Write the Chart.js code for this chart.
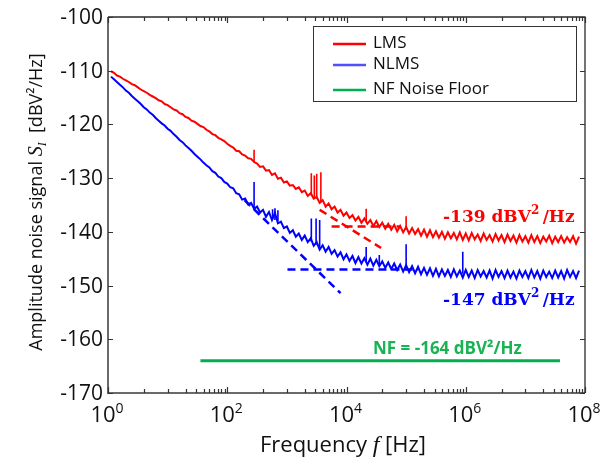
<!DOCTYPE html>
<html>
<head>
<meta charset="utf-8">
<script src="https://cdn.jsdelivr.net/npm/chart.js@4.4.1/dist/chart.umd.min.js"></script>
<style>
  html, body { margin: 0; padding: 0; background: #fff; }
  canvas { display: block; }
</style>
</head>
<body>
<canvas id="c" width="605" height="460"></canvas>
<script>
// Frequency grid of the spectra, as log10(f / Hz)
const logFreq = Array.from({ length: 158 }, (_, i) => +(0.05 + 0.05 * i).toFixed(2));

// LMS noise spectrum [dBV^2/Hz]
const lmsDb = [
  -110.1,-110.4,-110.9,-111.1,-111.5,-111.8,-112.1,-112.5,-112.7,-113.1,
  -113.5,-113.8,-114.1,-114.5,-114.8,-115.1,-115.5,-115.7,-116.2,-116.4,
  -116.8,-117.2,-117.4,-117.9,-118.1,-118.6,-118.8,-119.3,-119.5,-119.9,
  -120.3,-120.5,-121.0,-121.3,-121.8,-122.0,-122.5,-122.8,-123.1,-123.6,
  -124.0,-124.3,-124.9,-125.0,-125.6,-125.8,-126.3,-126.4,-127.0,-127.3,
  -127.9,-127.8,-128.6,-128.5,-129.4,-129.1,-130.1,-129.9,-130.8,-130.6,
  -131.4,-131.3,-132.0,-131.7,-132.6,-132.3,-133.3,-132.8,-133.8,-133.5,
  -134.6,-134.1,-135.3,-134.7,-135.8,-135.3,-136.4,-135.9,-137.0,-136.4,
  -137.4,-136.9,-137.9,-137.2,-138.3,-137.5,-138.5,-137.8,-138.9,-138.0,
  -139.1,-138.3,-139.4,-138.5,-139.6,-138.7,-139.9,-138.9,-140.1,-139.1,
  -140.3,-139.3,-140.4,-139.5,-140.7,-139.6,-140.9,-139.7,-141.0,-139.9,
  -141.1,-140.0,-141.3,-140.1,-141.2,-140.2,-141.4,-140.1,-141.5,-140.3,
  -141.6,-140.2,-141.4,-140.5,-141.7,-140.3,-141.5,-140.6,-141.8,-140.4,
  -141.6,-140.6,-141.9,-140.5,-141.7,-140.7,-142.0,-140.6,-141.8,-140.8,
  -142.0,-140.6,-141.9,-140.8,-142.1,-140.9,-141.8,-140.7,-142.1,-140.9,
  -141.9,-140.8,-142.0,-141.0,-141.9,-140.8,-142.2,-140.9
];

// NLMS noise spectrum [dBV^2/Hz]
const nlmsDb = [
  -111.1,-111.6,-112.1,-112.6,-113.1,-113.7,-114.1,-114.7,-115.2,-115.7,
  -116.2,-116.8,-117.2,-117.8,-118.2,-118.8,-119.3,-119.8,-120.2,-120.8,
  -121.2,-121.8,-122.3,-122.9,-123.3,-123.9,-124.4,-124.9,-125.5,-126.0,
  -126.5,-127.1,-127.6,-128.0,-128.7,-129.0,-129.7,-130.0,-130.7,-131.0,
  -131.7,-131.9,-132.8,-133.0,-134.0,-133.8,-134.9,-134.6,-135.7,-135.3,
  -136.4,-135.9,-137.2,-136.3,-137.8,-136.5,-138.4,-138.1,-139.3,-139.0,
  -140.2,-139.7,-140.9,-140.3,-141.5,-140.7,-141.9,-141.2,-142.6,-141.9,
  -143.3,-142.5,-143.7,-142.8,-144.1,-143.4,-144.6,-143.8,-145.1,-144.2,
  -145.4,-144.5,-145.8,-144.7,-145.9,-144.9,-146.1,-145.0,-146.3,-145.2,
  -146.4,-145.5,-146.7,-145.7,-146.9,-145.9,-147.1,-146.1,-147.4,-146.2,
  -147.5,-146.4,-147.7,-146.5,-147.9,-146.7,-148.0,-146.8,-148.2,-146.9,
  -148.3,-147.0,-148.2,-147.1,-148.4,-147.0,-148.3,-147.2,-148.5,-147.1,
  -148.4,-147.2,-148.6,-147.1,-148.3,-147.3,-148.5,-147.2,-148.7,-147.1,
  -148.4,-147.3,-148.6,-147.2,-148.5,-147.4,-148.7,-147.2,-148.4,-147.3,
  -148.6,-147.1,-148.5,-147.3,-148.7,-147.2,-148.4,-147.4,-148.6,-147.2,
  -148.5,-147.3,-148.7,-147.1,-148.4,-147.3,-148.6,-147.2
];

// Narrow interference lines: position, foot and peak
const lmsSpikeLogF = [2.45, 3.41, 3.46, 3.50, 3.57, 4.33, 5.00];
const lmsSpikeBase = [-127.0, -133.2, -133.6, -133.8, -134.4, -138.2, -139.6];
const lmsSpikeTop  = [-124.7, -129.1, -129.5, -129.2, -128.9, -135.7, -137.1];

const nlmsSpikeLogF = [2.45, 2.76, 2.80, 2.85, 3.41, 3.49, 3.55, 4.33, 4.55, 5.00, 5.95];
const nlmsSpikeBase = [-135.5, -137.6, -137.8, -138.0, -141.8, -142.4, -142.9, -145.6, -146.0, -146.8, -147.8];
const nlmsSpikeTop  = [-130.7, -135.8, -135.6, -136.0, -137.5, -137.5, -137.8, -142.8, -144.3, -142.3, -143.7];

// Asymptotes: 1/f slopes and white-noise floors
const lmsSlopeLogF  = [3.55, 4.58];
const lmsSlopeDb    = [-135.9, -143.0];
const lmsFloorLogF  = [3.75, 4.90];
const lmsFloorDb    = [-139, -139];
const nlmsSlopeLogF = [2.29, 3.90];
const nlmsSlopeDb   = [-134.1, -151.4];
const nlmsFloorLogF = [3.01, 5.20];
const nlmsFloorDb   = [-147, -147];

// Noise floor of the front end
const nfLogF = [1.55, 7.58];
const nfDb   = [-164, -164];

// Axis ticks
const yTicks = [-100, -110, -120, -130, -140, -150, -160, -170];
const xTickExp = [0, 2, 4, 6, 8];
const seriesNames = ['LMS', 'NLMS', 'NF Noise Floor'];

const RED = '#ff0000', BLUE = '#0000ff', GREEN = '#00b050';

const pts = (lf, db) => lf.map((l, i) => ({ x: Math.pow(10, l), y: db[i] }));
const spikes = (lf, b, t) => lf.flatMap((l, i) => {
  const f = Math.pow(10, l);
  return [{ x: f, y: b[i] }, { x: f, y: t[i] }, { x: f, y: null }];
});

// Draws a run of differently styled pieces on one baseline
function runs(ctx, parts, x, y, align) {
  let w = 0;
  parts.forEach(p => { ctx.font = p.font; p.w = ctx.measureText(p.t).width; w += p.w; });
  let cx = align === 'center' ? x - w / 2 : (align === 'right' ? x - w : x);
  ctx.textAlign = 'left';
  ctx.textBaseline = 'alphabetic';
  parts.forEach(p => {
    ctx.font = p.font;
    ctx.fillText(p.t, cx, y + (p.dy || 0));
    cx += p.w;
  });
}

const decorations = {
  id: 'decorations',
  afterDraw(chart) {
    const { ctx, chartArea: a, scales: { x, y } } = chart;
    ctx.save();

    // box
    ctx.lineCap = 'butt';
    ctx.strokeStyle = '#6a6a6a';
    ctx.lineWidth = 2;
    ctx.beginPath();
    ctx.moveTo(a.left, a.top); ctx.lineTo(a.left, a.bottom); ctx.lineTo(a.right, a.bottom);
    ctx.stroke();
    ctx.strokeStyle = '#2a2a2a';
    ctx.lineWidth = 1.3;
    ctx.beginPath();
    ctx.moveTo(a.left, a.top); ctx.lineTo(a.right, a.top); ctx.lineTo(a.right, a.bottom);
    ctx.stroke();

    // y ticks (inward, both sides)
    ctx.lineWidth = 1.2;
    ctx.strokeStyle = '#333';
    yTicks.forEach(v => {
      const py = Math.round(y.getPixelForValue(v)) + 0.5;
      ctx.beginPath();
      ctx.moveTo(a.left, py); ctx.lineTo(a.left + 5, py);
      ctx.moveTo(a.right, py); ctx.lineTo(a.right - 5, py);
      ctx.stroke();
    });

    // x ticks (inward, bottom and top)
    const xt = [];
    for (let e = 0; e <= 8; e += 2) {
      xt.push({ v: Math.pow(10, e), len: 6 });
      if (e < 8) {
        xt.push({ v: 4 * Math.pow(10, e), len: 4 });
        for (let k = 1; k <= 9; k++) xt.push({ v: k * Math.pow(10, e + 1), len: 4 });
      }
    }
    xt.forEach(t => {
      const px = Math.round(x.getPixelForValue(t.v)) + 0.5;
      ctx.beginPath();
      ctx.moveTo(px, a.bottom); ctx.lineTo(px, a.bottom - t.len);
      ctx.moveTo(px, a.top); ctx.lineTo(px, a.top + t.len);
      ctx.stroke();
    });

    // y tick labels
    ctx.fillStyle = '#111';
    ctx.font = '21px "Open Sans"';
    ctx.textAlign = 'right';
    ctx.textBaseline = 'middle';
    yTicks.forEach(v => ctx.fillText(String(v), a.left - 5, y.getPixelForValue(v) + 1));

    // x tick labels: 10^n
    xTickExp.forEach(e => {
      runs(ctx, [
        { t: '10', font: '22px "Open Sans"' },
        { t: String(e), font: '14px "Open Sans"', dy: -9 }
      ], x.getPixelForValue(Math.pow(10, e)) - 1, 422, 'center');
    });

    // axis titles
    runs(ctx, [
      { t: 'Frequency ', font: '22px "Open Sans"' },
      { t: 'f', font: 'italic 24px "Liberation Serif"' },
      { t: ' [Hz]', font: '22px "Open Sans"' }
    ], 343, 452, 'center');

    ctx.save();
    ctx.translate(42, 202);
    ctx.rotate(-Math.PI / 2);
    runs(ctx, [
      { t: 'Amplitude noise signal ', font: '18px "Open Sans"' },
      { t: 'S', font: 'italic 20px "Liberation Serif"' },
      { t: 'I', font: 'italic 12px "Liberation Serif"', dy: 4 },
      { t: '  [dBV\u00B2/Hz]', font: '18px "Open Sans"' }
    ], 0, 0, 'center');
    ctx.restore();

    // legend
    const lx = 313, ly = 26, lw = 263, lh = 75;
    ctx.fillStyle = '#fff';
    ctx.fillRect(lx, ly, lw, lh);
    ctx.strokeStyle = '#333';
    ctx.lineWidth = 1;
    ctx.strokeRect(lx + 0.5, ly + 0.5, lw, lh);
    const legendColors = [RED, '#5050ff', GREEN];
    const legendY = [43, 64, 89];
    seriesNames.forEach((name, i) => {
      ctx.strokeStyle = legendColors[i];
      ctx.lineWidth = 2.5;
      ctx.beginPath();
      ctx.moveTo(333, legendY[i] + 1); ctx.lineTo(366, legendY[i] + 1);
      ctx.stroke();
      ctx.fillStyle = '#111';
      ctx.font = '17px "Open Sans"';
      ctx.textAlign = 'left';
      ctx.textBaseline = 'middle';
      ctx.fillText(name, 373, legendY[i]);
    });

    // floor annotations
    const serif = 'bold 17px "DejaVu Serif"', serifSup = 'bold 12px "DejaVu Serif"';
    ctx.fillStyle = RED;
    runs(ctx, [
      { t: lmsFloorDb[0] + ' dBV', font: serif },
      { t: '2', font: serifSup, dy: -8 },
      { t: '\u2009/Hz', font: serif }
    ], 443, 222, 'left');
    ctx.fillStyle = BLUE;
    runs(ctx, [
      { t: nlmsFloorDb[0] + ' dBV', font: serif },
      { t: '2', font: serifSup, dy: -8 },
      { t: '\u2009/Hz', font: serif }
    ], 443, 305, 'left');
    ctx.fillStyle = '#19b354';
    ctx.font = 'bold 17px "Open Sans"';
    ctx.textAlign = 'left';
    ctx.textBaseline = 'alphabetic';
    ctx.fillText('NF = ' + nfDb[0] + ' dBV\u00B2/Hz', 373, 354);

    ctx.restore();
  }
};

new Chart(document.getElementById('c'), {
  type: 'line',
  data: {
    datasets: [
      { label: 'LMS slope', data: pts(lmsSlopeLogF, lmsSlopeDb), borderColor: RED, borderWidth: 2.5, borderDash: [8, 5], order: 0 },
      { label: 'LMS floor', data: pts(lmsFloorLogF, lmsFloorDb), borderColor: RED, borderWidth: 2.5, borderDash: [8, 5], order: 0 },
      { label: 'NLMS slope', data: pts(nlmsSlopeLogF, nlmsSlopeDb), borderColor: BLUE, borderWidth: 2.5, borderDash: [8, 5], order: 0 },
      { label: 'NLMS floor', data: pts(nlmsFloorLogF, nlmsFloorDb), borderColor: BLUE, borderWidth: 2.5, borderDash: [8, 5], order: 0 },
      { label: seriesNames[2], data: pts(nfLogF, nfDb), borderColor: GREEN, borderWidth: 3, order: 1 },
      { label: seriesNames[0], data: pts(logFreq, lmsDb), borderColor: RED, borderWidth: 2, order: 2 },
      { label: 'LMS lines', data: spikes(lmsSpikeLogF, lmsSpikeBase, lmsSpikeTop), borderColor: RED, borderWidth: 1.6, spanGaps: false, order: 2 },
      { label: seriesNames[1], data: pts(logFreq, nlmsDb), borderColor: BLUE, borderWidth: 2, order: 2 },
      { label: 'NLMS lines', data: spikes(nlmsSpikeLogF, nlmsSpikeBase, nlmsSpikeTop), borderColor: BLUE, borderWidth: 1.6, spanGaps: false, order: 2 }
    ]
  },
  options: {
    responsive: false,
    animation: false,
    devicePixelRatio: 1,
    layout: { padding: { left: 108, top: 17, right: 20, bottom: 67 } },
    elements: { point: { radius: 0, hoverRadius: 0 }, line: { tension: 0, fill: false } },
    plugins: { legend: { display: false }, tooltip: { enabled: false } },
    events: [],
    scales: {
      x: { type: 'logarithmic', min: 1, max: 1e8, display: false },
      y: { type: 'linear', min: -170, max: -100, display: false }
    }
  },
  plugins: [decorations]
});
</script>
</body>
</html>
